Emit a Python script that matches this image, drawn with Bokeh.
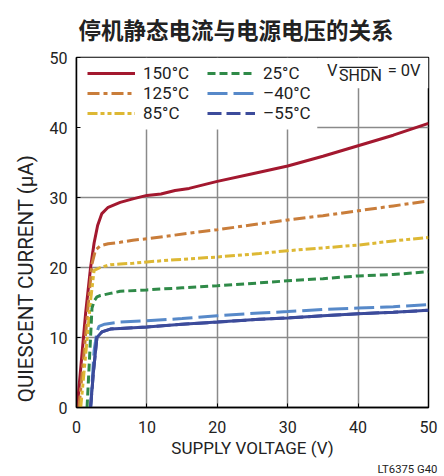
from bokeh.plotting import figure
from bokeh.models import Range1d, Legend, LegendItem, Label, FixedTicker, Title
from bokeh.embed import file_html
from bokeh.resources import INLINE

# ---- data ----
v150 = [0.1, 1.3, 2.0, 2.5, 3.0, 3.6, 4.5, 6.2, 8, 10, 12, 14, 16, 20, 25, 30, 35, 40, 45, 50]
i150 = [0, 13.5, 20.0, 23.5, 26.0, 27.7, 28.6, 29.3, 29.8, 30.3, 30.5, 31.0, 31.3, 32.3, 33.4, 34.5, 35.9, 37.4, 38.9, 40.6]

v125 = [0.35, 1.0, 1.6, 2.2, 2.7, 3.4, 4.5, 6.2, 8, 10, 13, 16, 20, 25, 30, 35, 40, 45, 50]
i125 = [0, 7.0, 14.0, 20.5, 22.5, 23.1, 23.4, 23.6, 23.9, 24.1, 24.5, 24.9, 25.4, 26.1, 26.8, 27.4, 28.1, 28.8, 29.5]

v85 = [0.6, 1.3, 2.0, 2.5, 3.4, 4.8, 6.2, 8, 10, 14, 20, 26, 30, 35, 40, 45, 50]
i85 = [0, 7.5, 15.3, 19.6, 20.0, 20.4, 20.5, 20.6, 20.8, 21.1, 21.5, 22.0, 22.4, 22.8, 23.2, 23.8, 24.3]

v25 = [1.5, 1.75, 2.2, 2.5, 2.9, 3.4, 4.8, 6.2, 10, 15, 20, 26, 30, 35, 40, 45, 50]
i25 = [0, 5.0, 14.2, 15.2, 15.8, 16.0, 16.3, 16.6, 16.8, 17.1, 17.4, 17.8, 18.1, 18.4, 18.8, 19.0, 19.4]

vm40 = [2.0, 2.5, 2.9, 3.2, 4.0, 6.2, 10, 15, 20, 26, 30, 35, 40, 45, 50]
im40 = [0, 8.1, 10.8, 11.6, 11.9, 12.2, 12.4, 12.7, 13.1, 13.5, 13.7, 14.0, 14.2, 14.4, 14.7]

vm55 = [2.0, 2.4, 2.9, 3.6, 4.8, 6.2, 10, 15, 20, 26, 30, 35, 40, 45, 50]
im55 = [0, 5.0, 10.0, 10.8, 11.2, 11.3, 11.5, 11.9, 12.2, 12.6, 12.8, 13.1, 13.4, 13.6, 13.9]

labels = ["150°C", "125°C", "85°C", "25°C", "–40°C", "–55°C"]
x_ticks = [0, 10, 20, 30, 40, 50]
y_ticks = [0, 10, 20, 30, 40, 50]

# ---- styling ----
FONT = "Roboto"
TXT = "#222222"
C150, C125, C85, C25, CM40, CM55 = "#A3182F", "#C97D3A", "#DDB834", "#2F8A48", "#5789C9", "#3C4B9B"

p = figure(width=444, height=476, output_backend="svg", toolbar_location=None,
           x_range=Range1d(0, 50), y_range=Range1d(0, 50),
           min_border_left=76, min_border_right=16, min_border_top=57, min_border_bottom=69)
p.background_fill_color = "white"
p.border_fill_color = "white"
p.outline_line_color = "black"
p.outline_line_width = 1.5

for ax in (p.xaxis[0], p.yaxis[0]):
    ax.major_tick_in = 4
    ax.major_tick_out = 0
    ax.minor_tick_in = 0
    ax.minor_tick_out = 0
    ax.axis_line_color = "black"
    ax.axis_line_width = 1.5
    ax.major_tick_line_color = "black"
    ax.major_label_text_font = FONT
    ax.major_label_text_font_size = "16px"
    ax.major_label_text_color = TXT
    ax.axis_label_text_font = FONT
    ax.axis_label_text_font_style = "normal"
    ax.axis_label_text_color = TXT

p.xaxis.ticker = FixedTicker(ticks=x_ticks)
p.yaxis.ticker = FixedTicker(ticks=y_ticks)
p.xaxis.axis_label = "SUPPLY VOLTAGE (V)"
# trailing no-break spaces shift the rotated label downwards, as in the reference
p.yaxis.axis_label = "QUIESCENT CURRENT (µA)" + "\u00a0" * 18
p.xaxis.axis_label_text_font_size = "17px"
p.yaxis.axis_label_text_font_size = "20.5px"
p.xaxis.major_label_standoff = 13
p.yaxis.major_label_standoff = 9
p.xaxis.axis_label_standoff = 2
p.yaxis.axis_label_standoff = 9

p.grid.grid_line_color = "#8a8a8a"
p.grid.grid_line_width = 1.5
p.xgrid.ticker = FixedTicker(ticks=x_ticks)
p.ygrid.ticker = FixedTicker(ticks=y_ticks)

# white boxes behind legend and the V_SHDN note (hide grid lines)
p.quad(left=[0, 34.2], right=[34.2, 50], bottom=[39.7, 45.6], top=[50, 50],
       fill_color="white", line_color=None)

LW = 3
r150 = p.line(v150, i150, line_color=C150, line_width=LW)
r125 = p.line(v125, i125, line_color=C125, line_width=LW, line_dash="12 4 4 4")
r85 = p.line(v85, i85, line_color=C85, line_width=LW, line_dash="10 3 4 3 4 3")
r25 = p.line(v25, i25, line_color=C25, line_width=LW, line_dash="8 4")
rm40 = p.line(vm40, im40, line_color=CM40, line_width=LW, line_dash="20 6")
# dashed copy (used for the legend sample) covered by the solid curve
lm55 = p.line(vm55, im55, line_color=CM55, line_width=LW, line_dash="14 5")
rm55 = p.line(vm55, im55, line_color=CM55, line_width=LW)

items = [LegendItem(label=lab, renderers=[r]) for lab, r in
         zip(labels, [r150, r125, r85, r25, rm40, lm55])]
legend = Legend(items=items, location=(11, 284), orientation="vertical", nrows=3,
                glyph_width=48, glyph_height=20, label_height=20, label_width=64,
                label_standoff=8, spacing=0, padding=0, margin=0,
                label_text_font=FONT, label_text_font_size="17px",
                label_text_color=TXT,
                background_fill_alpha=0, border_line_alpha=0)
p.add_layout(legend)

# V_SHDN = 0V note
note_font = dict(text_font=FONT, text_color=TXT, text_baseline="alphabetic")
p.add_layout(Label(x=35.6, y=48.1, text="V", text_font_size="16.5px", **note_font))
p.add_layout(Label(x=37.3, y=47.5, text="SHDN", text_font_size="16px", **note_font))
p.add_layout(Label(x=44.2, y=48.1, text="= 0V", text_font_size="16.5px", **note_font))
p.segment(x0=[37.35], y0=[48.6], x1=[42.8], y1=[48.6], line_color=TXT, line_width=1.2)

# title and figure code
p.add_layout(Title(text="停机静态电流与电源电压的关系", align="left", offset=2, standoff=22,
                   vertical_align="top",
                   text_font="Noto Sans CJK SC", text_font_style="bold",
                   text_font_size="22.5px", text_color=TXT), "above")
p.add_layout(Title(text="LT6375 G40", align="left", offset=301, standoff=0,
                   text_font=FONT, text_font_size="11.3px", text_font_style="normal",
                   text_color=TXT), "below")

open("out.html", "w").write(file_html(p, INLINE))
